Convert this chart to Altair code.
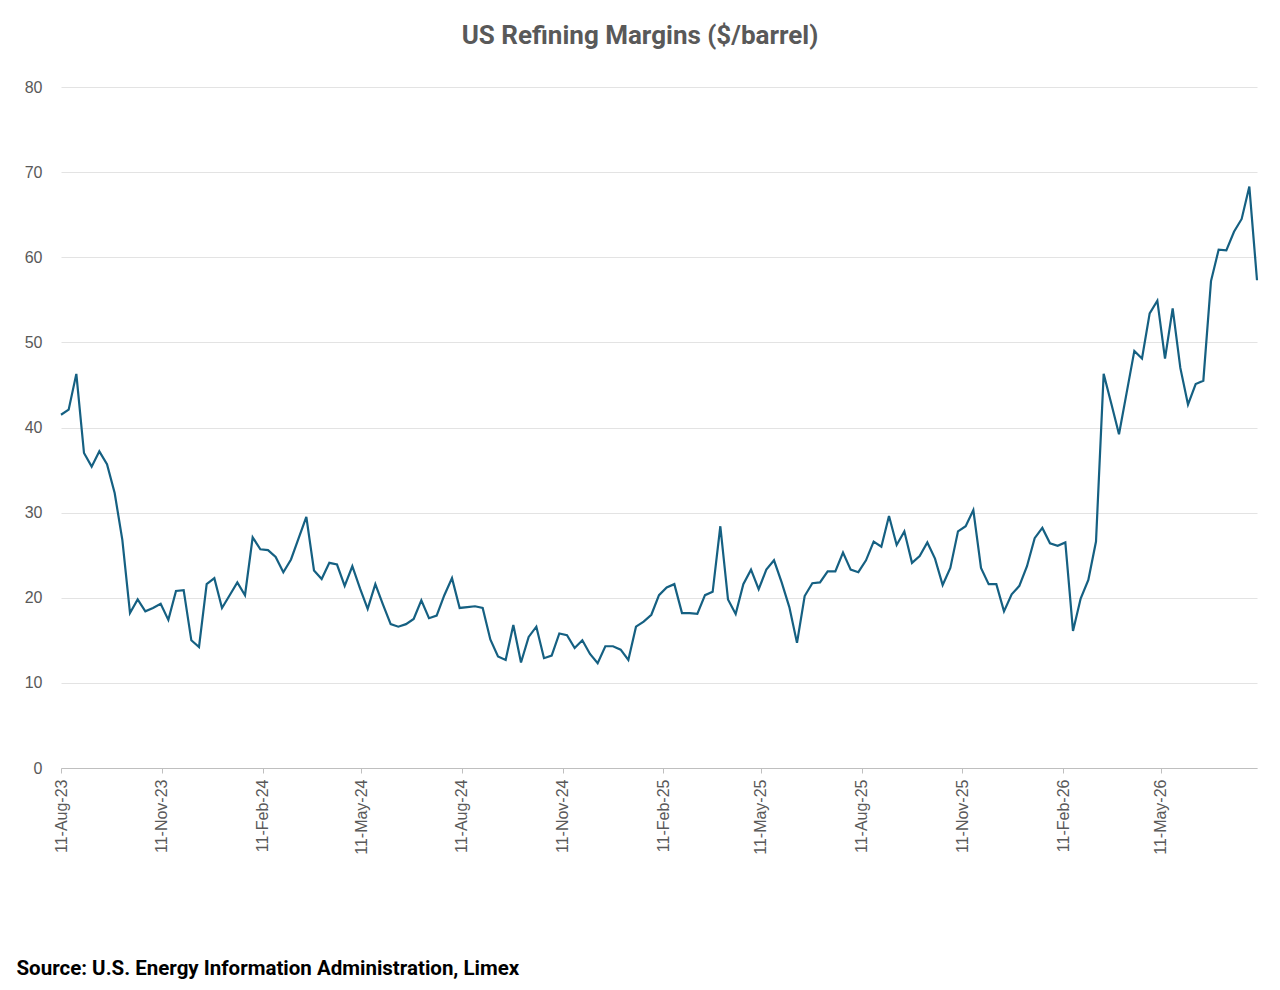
import altair as alt
import pandas as pd

# Weekly US refining margins ($/barrel), first week 11-Aug-2023
start_date = "2023-08-11"
margins = [
    41.5, 42.1, 46.3, 37.0, 35.4, 37.2, 35.7, 32.3, 26.8, 18.2,
    19.8, 18.4, 18.8, 19.3, 17.4, 20.8, 20.9, 15.0, 14.2, 21.6,
    22.3, 18.8, 20.3, 21.8, 20.3, 27.1, 25.7, 25.6, 24.8, 23.0,
    24.5, 27.0, 29.5, 23.2, 22.2, 24.1, 23.9, 21.4, 23.7, 21.1,
    18.7, 21.6, 19.2, 16.9, 16.6, 16.9, 17.5, 19.7, 17.6, 17.9,
    20.3, 22.3, 18.8, 18.9, 19.0, 18.8, 15.1, 13.1, 12.7, 16.8,
    12.4, 15.4, 16.6, 12.9, 13.2, 15.8, 15.6, 14.1, 15.0, 13.4,
    12.3, 14.3, 14.3, 13.9, 12.7, 16.6, 17.2, 18.0, 20.3, 21.2,
    21.6, 18.2, 18.2, 18.1, 20.3, 20.7, 28.4, 19.8, 18.1, 21.6,
    23.3, 21.0, 23.3, 24.4, 21.8, 18.9, 14.7, 20.2, 21.7, 21.8,
    23.1, 23.1, 25.3, 23.3, 23.0, 24.4, 26.6, 26.0, 29.6, 26.2,
    27.8, 24.1, 24.9, 26.5, 24.6, 21.5, 23.5, 27.8, 28.4, 30.3,
    23.5, 21.6, 21.6, 18.4, 20.4, 21.4, 23.7, 27.0, 28.2, 26.4,
    26.1, 26.5, 16.1, 19.9, 22.1, 26.6, 46.3, 42.8, 39.2, 44.1,
    49.0, 48.1, 53.4, 54.9, 48.1, 54.0, 47.0, 42.7, 45.1, 45.5,
    57.2, 60.9, 60.8, 63.0, 64.5, 68.3, 57.3,
]
tick_dates = [
    "2023-08-11", "2023-11-11", "2024-02-11", "2024-05-11",
    "2024-08-11", "2024-11-11", "2025-02-11", "2025-05-11",
    "2025-08-11", "2025-11-11", "2026-02-11", "2026-05-11",
]
y_ticks = [0, 10, 20, 30, 40, 50, 60, 70, 80]

dates = pd.date_range(start_date, periods=len(margins), freq="7D")
df = pd.DataFrame({"date": dates.strftime("%Y-%m-%d"), "margin": margins})


def ms(d):
    return int(pd.Timestamp(d, tz="UTC").timestamp() * 1000)


x_domain = [ms(dates[0]), ms(dates[-1])]
tick_ms = [ms(d) for d in tick_dates]

GREY = "#595959"

chart = (
    alt.Chart(df)
    .mark_line(color="#156082", strokeWidth=2.2)
    .encode(
        x=alt.X(
            "date:T",
            scale=alt.Scale(type="utc", domain=x_domain, nice=False),
            axis=alt.Axis(
                values=tick_ms,
                labelExpr="utcFormat(datum.value, '%d-%b-%y')",
                labelAngle=270,
                labelFont="Liberation Sans",
                labelFontSize=16,
                labelColor=GREY,
                labelPadding=6,
                labelOverlap=False,
                domainColor="#bfbfbf",
                domainWidth=1,
                tickColor="#bfbfbf",
                tickSize=5,
                grid=False,
                title="Source: U.S. Energy Information Administration, Limex",
                titleFont="Roboto",
                titleFontSize=20.5,
                titleFontWeight="bold",
                titleColor="#000000",
                titleAlign="left",
                titleBaseline="alphabetic",
                titleAngle=0,
                titleX=-45,
                titleY=206,
            ),
        ),
        y=alt.Y(
            "margin:Q",
            scale=alt.Scale(domain=[0, 80], nice=False),
            axis=alt.Axis(
                values=y_ticks,
                labelFont="Liberation Sans",
                labelFontSize=16,
                labelColor=GREY,
                labelPadding=19,
                domain=False,
                ticks=False,
                grid=True,
                gridColor="#e3e3e3",
                gridWidth=1,
                title=None,
            ),
        ),
    )
    .properties(
        width=1196,
        height=681,
        background="white",
        title=alt.TitleParams(
            "US Refining Margins ($/barrel)",
            font="Roboto",
            fontSize=26,
            fontWeight="bold",
            color=GREY,
            anchor="middle",
            frame="group",
            dx=-19,
            offset=9,
            baseline="alphabetic",
        ),
        autosize=alt.AutoSizeParams(type="none"),
        padding={"left": 53, "top": 79, "right": 15, "bottom": 212},
    )
    .configure_view(stroke="transparent", strokeWidth=0)
)

chart.save("out.html", embed_options={"renderer": "svg", "actions": False})
